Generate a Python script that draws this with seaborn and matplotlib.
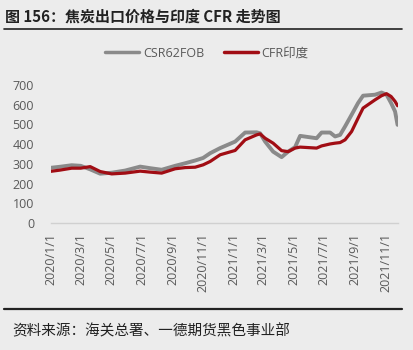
import matplotlib
matplotlib.use("Agg")
import matplotlib.pyplot as plt
import matplotlib.dates as mdates
import matplotlib.ticker as mticker
from matplotlib.lines import Line2D
import seaborn as sns
import pandas as pd

# ---- data ----
dates = [
    "2020-01-01", "2020-01-19", "2020-02-12", "2020-03-01", "2020-03-20", "2020-04-09",
    "2020-05-02", "2020-05-29", "2020-06-28", "2020-07-18", "2020-08-10", "2020-09-06",
    "2020-09-26", "2020-10-16", "2020-11-01", "2020-11-15", "2020-12-05", "2021-01-04",
    "2021-01-24", "2021-02-16", "2021-02-23", "2021-03-05", "2021-03-21", "2021-04-07",
    "2021-04-20", "2021-05-04", "2021-05-14", "2021-06-16", "2021-06-26", "2021-07-13",
    "2021-07-23", "2021-08-02", "2021-08-12", "2021-08-25", "2021-09-07", "2021-09-17",
    "2021-10-11", "2021-10-24", "2021-11-03", "2021-11-12", "2021-11-20", "2021-11-25",
]
csr62fob = [
    280, 285, 293, 290, 272, 250, 255, 266, 286, 278, 270, 290,
    303, 317, 330, 354, 380, 413, 459, 460, 455, 413, 362, 334,
    362, 385, 442, 430, 459, 459, 439, 447, 490, 549, 609, 646,
    651, 662, 651, 609, 566, 498,
]
cfr_india = [
    262, 268, 278, 278, 286, 261, 249, 253, 263, 258, 253, 275,
    281, 283, 295, 312, 346, 368, 422, 447, 452, 430, 405, 367,
    362, 380, 385, 380, 391, 401, 405, 408, 422, 464, 532, 583,
    625, 646, 656, 642, 617, 595,
]
series_names = ["CSR62FOB", "CFR印度"]
yticks = [0, 100, 200, 300, 400, 500, 600, 700]
title_text = "图 156：焦炭出口价格与印度 CFR 走势图"
source_text = "资料来源：海关总署、一德期货黑色事业部"

colors = {"CSR62FOB": "#8A8A8A", "CFR印度": "#A10D14"}
bg = "#ECECEC"

sns.set_theme(style="white")
plt.rcParams["font.family"] = ["Noto Sans CJK SC", "DejaVu Sans"]

df = pd.DataFrame({
    "date": pd.to_datetime(dates * 2),
    "value": csr62fob + cfr_india,
    "series": [series_names[0]] * len(dates) + [series_names[1]] * len(dates),
})

fig = plt.figure(figsize=(4.14, 3.5), dpi=100, facecolor=bg)
ax = fig.add_axes([0.1225, 0.363, 0.839, 0.394])
ax.set_facecolor(bg)

sns.lineplot(data=df, x="date", y="value", hue="series", palette=colors,
             hue_order=series_names, ax=ax, legend=False, linewidth=2.4)
for ln, lw in zip(ax.get_lines(), [2.8, 2.3]):
    ln.set_linewidth(lw)

ax.set_xlim(pd.Timestamp("2020-01-01"), pd.Timestamp("2021-11-26"))
ax.set_ylim(0, 700)
ax.set_yticks(yticks)
ax.xaxis.set_major_locator(mdates.MonthLocator(bymonth=[1, 3, 5, 7, 9, 11]))
ax.xaxis.set_major_formatter(mticker.FuncFormatter(
    lambda v, p: (lambda d: f"{d.year}/{d.month}/{d.day}")(mdates.num2date(v))))
ax.set_xlabel("")
ax.set_ylabel("")

for s in ["top", "right", "left"]:
    ax.spines[s].set_visible(False)
ax.spines["bottom"].set_color("#D0D0D0")
ax.spines["bottom"].set_linewidth(1.0)
ax.tick_params(axis="x", which="major", direction="out", length=4, width=1,
               color="#D0D0D0", labelsize=9, labelcolor="#595959", rotation=90, pad=3)
ax.tick_params(axis="y", length=0, labelsize=9, labelcolor="#595959", pad=12)
for lbl in ax.get_xticklabels() + ax.get_yticklabels():
    lbl.set_family(["Open Sans", "DejaVu Sans"])

# legend
handles = [Line2D([0], [0], color=colors[n], lw=2.5) for n in series_names]
leg = fig.legend(handles, series_names, loc="center", bbox_to_anchor=(0.5, 0.848),
                 ncol=2, frameon=False, fontsize=9, handlelength=2.7,
                 columnspacing=1.6, handletextpad=0.3)
for t in leg.get_texts():
    t.set_color("#595959")
    t.set_family(["Open Sans", "Noto Sans CJK SC", "DejaVu Sans"])

# title and source
fig.text(0.012, 0.953, title_text, fontsize=10.8, fontweight="bold", color="#222222",
         ha="left", va="center")
fig.add_artist(Line2D([0.01, 0.971], [0.918, 0.918], color="#222222", lw=1.2,
                      transform=fig.transFigure))
fig.add_artist(Line2D([0.01, 0.971], [0.116, 0.116], color="#222222", lw=1.6,
                      transform=fig.transFigure))
fig.text(0.029, 0.055, source_text, fontsize=10.5, color="#222222",
         ha="left", va="center")

fig.savefig("out.png", dpi=100, facecolor=bg)
